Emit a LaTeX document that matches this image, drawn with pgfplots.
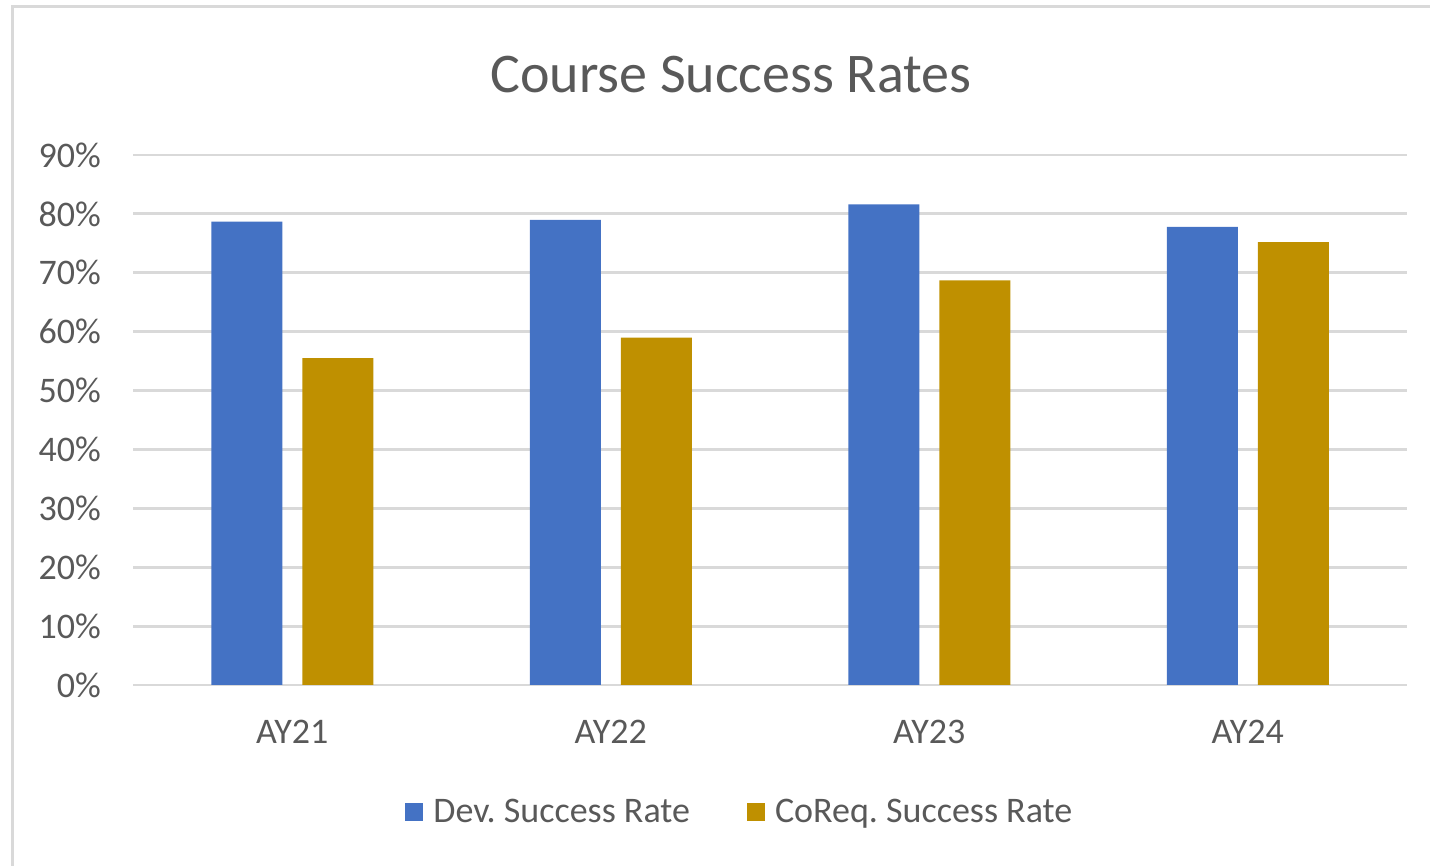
\documentclass[border=0pt]{standalone}
\usepackage{fontspec}
\setmainfont{Carlito}
\usepackage{pgfplots}
\pgfplotsset{compat=1.18}
\definecolor{devblue}{HTML}{4472C4}
\definecolor{coreqgold}{HTML}{BF9000}
\definecolor{gridgray}{HTML}{D9D9D9}
\definecolor{textgray}{HTML}{595959}
\frenchspacing
\begin{document}
\begin{tikzpicture}
\useasboundingbox (0,0) rectangle (715pt,433pt);
\draw[gridgray, line width=1.5pt] (6pt,0) -- (6pt,429.5pt) -- (716pt,429.5pt);
\node[font=\fontsize{28}{32}\selectfont, text=textgray] at (365.5pt,395.5pt) {Course Success Rates};
\begin{axis}[
  at={(66.5pt,90.5pt)}, anchor=south west,
  scale only axis, width=637pt, height=265pt,
  ymin=0, ymax=90, xmin=-0.5, xmax=3.5,
  ybar=10pt, bar width=35.5pt,
  xtick={0,1,2,3}, xticklabels={AY21,AY22,AY23,AY24},
  ytick={0,10,20,30,40,50,60,70,80,90},
  yticklabels={0\%,10\%,20\%,30\%,40\%,50\%,60\%,70\%,80\%,90\%},
  ymajorgrids, grid style={gridgray, line width=1.4pt},
  axis x line*=bottom, axis y line*=left,
  y axis line style={draw=none},
  x axis line style={gridgray, line width=1.4pt, -},
  major tick length=0pt,
  tick label style={font=\fontsize{18}{21}\selectfont, text=textgray},
  yticklabel style={xshift=-12.5pt},
  xticklabel style={yshift=-14pt},
  legend style={at={(0.4795,-0.2396)}, anchor=center, draw=none, legend columns=2,
    font=\fontsize{18}{21}\selectfont, text=textgray,
    /tikz/every even column/.append style={column sep=23.5pt},
    nodes={inner xsep=5pt}},
  legend image code/.code={\fill[#1] (0pt,-4.5pt) rectangle (9pt,4.5pt);},
]
\addplot[fill=devblue, draw=none] coordinates {(0,78.7) (1,79.0) (2,81.6) (3,77.8)};
\addplot[fill=coreqgold, draw=none] coordinates {(0,55.5) (1,59.0) (2,68.7) (3,75.2)};
\legend{Dev. Success Rate, CoReq. Success Rate}
\end{axis}
\end{tikzpicture}
\end{document}
